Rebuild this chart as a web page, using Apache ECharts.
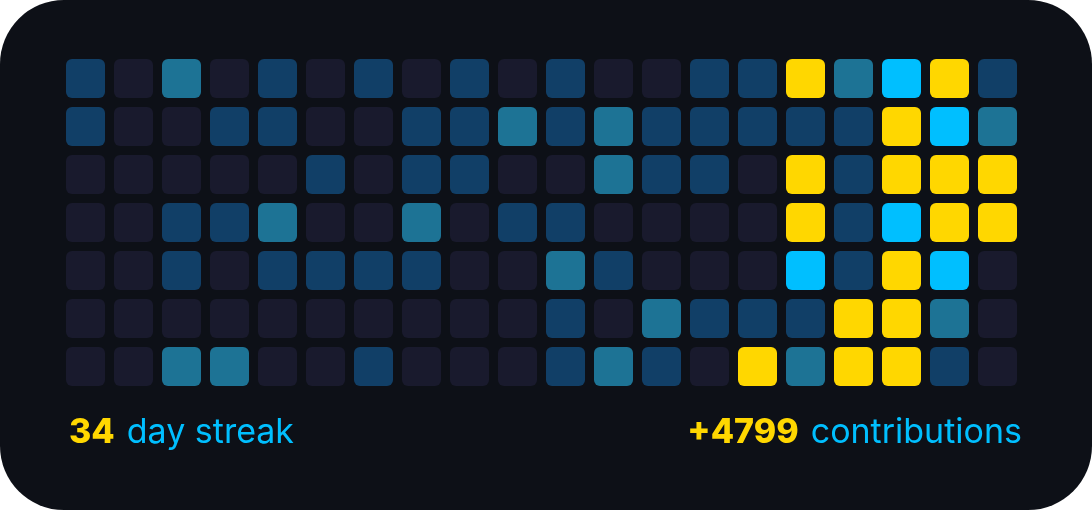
<!DOCTYPE html>
<html>
<head>
<meta charset="utf-8">
<script src="https://cdn.jsdelivr.net/npm/echarts@6/dist/echarts.min.js"></script>
<style>
  html, body { margin: 0; padding: 0; background: #ffffff; }
  #chart { width: 1092px; height: 510px; }
</style>
</head>
<body>
<div id="chart"></div>
<script>
// ---- data ----
var weeks = ['W1','W2','W3','W4','W5','W6','W7','W8','W9','W10','W11','W12','W13','W14','W15','W16','W17','W18','W19','W20'];
var weekdays = ['D1','D2','D3','D4','D5','D6','D7'];
// activity level per day (0 = none ... 4 = highest), one list per weekday row
var row1 = [1,0,2,0,1,0,1,0,1,0,1,0,0,1,1,4,2,3,4,1];
var row2 = [1,0,0,1,1,0,0,1,1,2,1,2,1,1,1,1,1,4,3,2];
var row3 = [0,0,0,0,0,1,0,1,1,0,0,2,1,1,0,4,1,4,4,4];
var row4 = [0,0,1,1,2,0,0,2,0,1,1,0,0,0,0,4,1,3,4,4];
var row5 = [0,0,1,0,1,1,1,1,0,0,2,1,0,0,0,3,1,4,3,0];
var row6 = [0,0,0,0,0,0,0,0,0,0,1,0,2,1,1,1,4,4,2,0];
var row7 = [0,0,2,2,0,0,1,0,0,0,1,2,1,0,4,2,4,4,1,0];
var streakDays = 34;
var contributions = 4799;

var rows = [row1,row2,row3,row4,row5,row6,row7];
var cells = [];
rows.forEach(function (r, yi) {
  r.forEach(function (v, xi) { cells.push([xi, yi, v]); });
});

var chart = echarts.init(document.getElementById('chart'), null, { renderer: 'canvas' });
var numStyle = { fontFamily: 'Inter', fontWeight: 800, fontSize: 34, fill: '#ffd700', padding: [0, 12, 0, 0] };
var txtStyle = { fontFamily: 'Inter', fontWeight: 'normal', fontSize: 34, fill: '#00bfff' };
var option = {
  backgroundColor: 'transparent',
  animation: false,
  grid: { left: 61.5, top: 54.5, width: 960, height: 336 },
  xAxis: { type: 'category', data: weeks, show: false },
  yAxis: { type: 'category', data: weekdays, inverse: true, show: false },
  visualMap: {
    type: 'piecewise', show: false, dimension: 2,
    pieces: [
      { value: 0, color: '#191a2d' },
      { value: 1, color: '#113f67' },
      { value: 2, color: '#1d7395' },
      { value: 3, color: '#00bfff' },
      { value: 4, color: '#ffd700' }
    ]
  },
  graphic: [
    {
      type: 'rect', z: -10, silent: true,
      shape: { x: 0, y: 0, width: 1092, height: 510, r: 64 },
      style: { fill: '#0d1017' }
    },
    {
      type: 'text', left: 69, top: 416, silent: true,
      style: {
        text: '{n|' + streakDays + '}{t|day streak}',
        rich: { n: numStyle, t: txtStyle }
      }
    },
    {
      type: 'text', right: 70, top: 416, silent: true,
      style: {
        text: '{n|+' + contributions + '}{t|contributions}',
        rich: { n: numStyle, t: txtStyle }
      }
    }
  ],
  series: [{
    type: 'custom',
    data: cells,
    encode: { x: 0, y: 1 },
    renderItem: function (params, api) {
      var c = api.coord([api.value(0), api.value(1)]);
      var s = api.size([1, 1]);
      var w = s[0] - 9, h = s[1] - 9;
      return {
        type: 'rect',
        shape: { x: c[0] - w / 2, y: c[1] - h / 2, width: w, height: h, r: 6 },
        style: { fill: api.visual('color') }
      };
    }
  }]
};
chart.setOption(option);
</script>
</body>
</html>
